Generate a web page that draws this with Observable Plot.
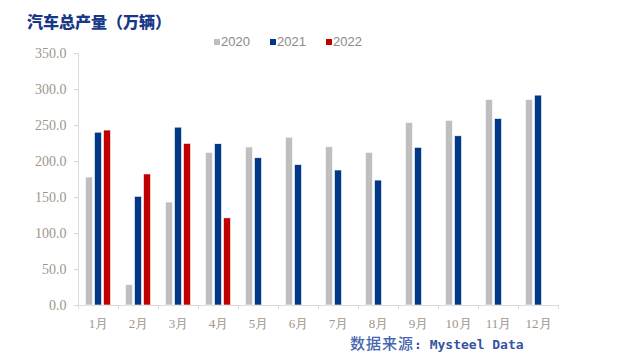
<!DOCTYPE html>
<html><head><meta charset="utf-8">
<script src="https://cdn.jsdelivr.net/npm/d3@7"></script>
<script src="https://cdn.jsdelivr.net/npm/@observablehq/plot@0.6"></script>
<style>
body{margin:0;background:#fff;}
#wrap{position:relative;width:624px;height:364px;overflow:hidden;background:#fff;}
#chart svg{position:absolute;left:0;top:0;}
.title{position:absolute;left:27px;top:9px;font-family:"Noto Sans CJK SC";font-weight:900;font-size:16px;color:#1a3888;white-space:nowrap;}
.leg{position:absolute;top:34px;font-family:"Liberation Sans";font-size:13px;color:#8a8a8a;white-space:nowrap;line-height:16px;}
.sw{display:inline-block;width:6px;height:6px;margin-right:1px;vertical-align:1px;}
.caption{position:absolute;left:350px;top:334px;color:#3553a3;white-space:nowrap;line-height:18px;}
.caption .cj{font-family:"Noto Sans CJK SC";font-size:15px;font-weight:500;letter-spacing:1px;color:#4565ae;}
.caption .lt{font-family:"DejaVu Sans Mono";font-size:13px;font-weight:bold;}
</style>
</head><body>
<div id="wrap">
  <div id="chart"></div>
  <div class="title">汽车总产量（万辆）</div>
  <div id="legend"></div>
  <div class="caption"><span class="cj">数据来源</span><span class="lt">: Mysteel Data</span></div>
</div>
<script>
const months = ["1月","2月","3月","4月","5月","6月","7月","8月","9月","10月","11月","12月"];
const years = ["2020","2021","2022"];
const v2020 = [177.8, 28.2, 143, 212, 219.5, 233, 220, 212, 253.5, 256.5, 285.5, 285.5];
const v2021 = [240, 151, 247, 224, 204.5, 195, 187.5, 173.5, 219, 235, 259, 291.5];
const v2022 = [243, 182, 224.5, 121];
const yTicks = [0, 50, 100, 150, 200, 250, 300, 350];
const colors = ["#bfbfbf", "#003887", "#c00000"];
const series = [v2020, v2021, v2022];

const tables = series.map(vals => vals.map((v, j) => ({month: months[j], value: v})));

const axisColor = "#d9d9d9";
const labelColor = "#a0968c";

const plot = Plot.plot({
  width: 624,
  height: 364,
  marginLeft: 78,
  marginRight: 66,
  marginTop: 53,
  marginBottom: 59,
  x: {domain: months, padding: 0},
  y: {domain: [0, 350]},
  marks: [
    Plot.ruleX([months[0]], {x: d => d, dx: -20, stroke: axisColor, insetBottom: -4}),
    Plot.ruleX(months.slice(1), {x: d => d, dx: -20, stroke: axisColor, insetTop: 252, insetBottom: -4}),
    Plot.ruleX([months[11]], {x: d => d, dx: 20, stroke: axisColor, insetTop: 252, insetBottom: -4}),
    Plot.ruleY([0], {stroke: axisColor}),
    Plot.axisY({ticks: yTicks, tickFormat: d => d.toFixed(1), tickSize: 4, tickPadding: 8,
      stroke: axisColor, fill: labelColor, fontSize: 14, fontFamily: "Liberation Serif", label: null}),
    Plot.axisX({tickSize: 0, tickPadding: 13, fill: labelColor, fontSize: 13,
      fontFamily: "Liberation Serif", label: null}),
    ...tables.map((t, i) => Plot.barY(t, {
      x: "month", y: "value", fill: colors[i], stroke: "#ffffff", strokeWidth: 0.6,
      insetLeft: 16.5, insetRight: 16.5, dx: (i - 1) * 9
    }))
  ]
});
document.getElementById("chart").appendChild(plot);

const legend = document.getElementById("legend");
years.forEach((yr, i) => {
  const d = document.createElement("div");
  d.className = "leg";
  d.style.left = (214 + i * 56) + "px";
  d.innerHTML = `<span class="sw" style="background:${colors[i]}"></span>${yr}`;
  legend.appendChild(d);
});
</script>
</body></html>
